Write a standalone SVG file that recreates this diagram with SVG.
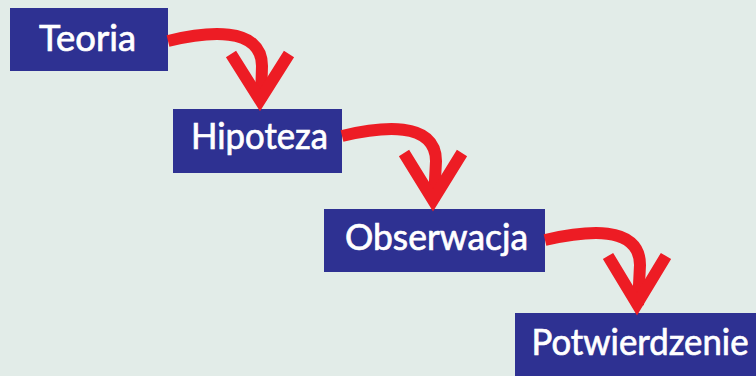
<svg xmlns="http://www.w3.org/2000/svg" width="756" height="376" viewBox="0 0 756 376">
<defs>
<style>
.box{fill:#2e3192}
.lbl{fill:#ffffff;stroke:#ffffff;stroke-width:0.7;font-family:"Lato","DejaVu Sans",sans-serif;font-size:36px;text-anchor:middle}
.conn{fill:none;stroke:#ed1c24;stroke-width:12}
.head{fill:none;stroke:#ed1c24;stroke-width:12;stroke-linejoin:miter;stroke-miterlimit:10}
</style>
</defs>
<rect width="756" height="376" fill="#e2ece8"/>
<g id="n1"><rect class="box" x="10" y="8" width="158" height="63"/><text class="lbl" x="87.5" y="51" textLength="97" lengthAdjust="spacingAndGlyphs">Teoria</text></g>
<g id="n2"><rect class="box" x="173" y="109" width="169" height="64"/><text class="lbl" x="259.5" y="149" textLength="137" lengthAdjust="spacingAndGlyphs">Hipoteza</text></g>
<g id="n3"><rect class="box" x="324" y="209" width="221" height="63"/><text class="lbl" x="436.5" y="250" textLength="183" lengthAdjust="spacingAndGlyphs">Obserwacja</text></g>
<g id="n4"><rect class="box" x="515" y="313" width="251" height="63"/><text class="lbl" x="640" y="355" textLength="217" lengthAdjust="spacingAndGlyphs">Potwierdzenie</text></g>
<g id="connectors">
<path class="conn" d="M168,41 C205,32 262,25 262,66 L261,100"/>
<path class="head" d="M231,54 L260,100 L289,54"/>
<path class="conn" d="M342,136 C380,127 436,120 436,161 L434,200"/>
<path class="head" d="M404,153 L433,200 L462,153"/>
<path class="conn" d="M545,240 C585,231 640,224 640,265 L638,305"/>
<path class="head" d="M608,256 L637,304 L666,256"/>
</g>
</svg>
